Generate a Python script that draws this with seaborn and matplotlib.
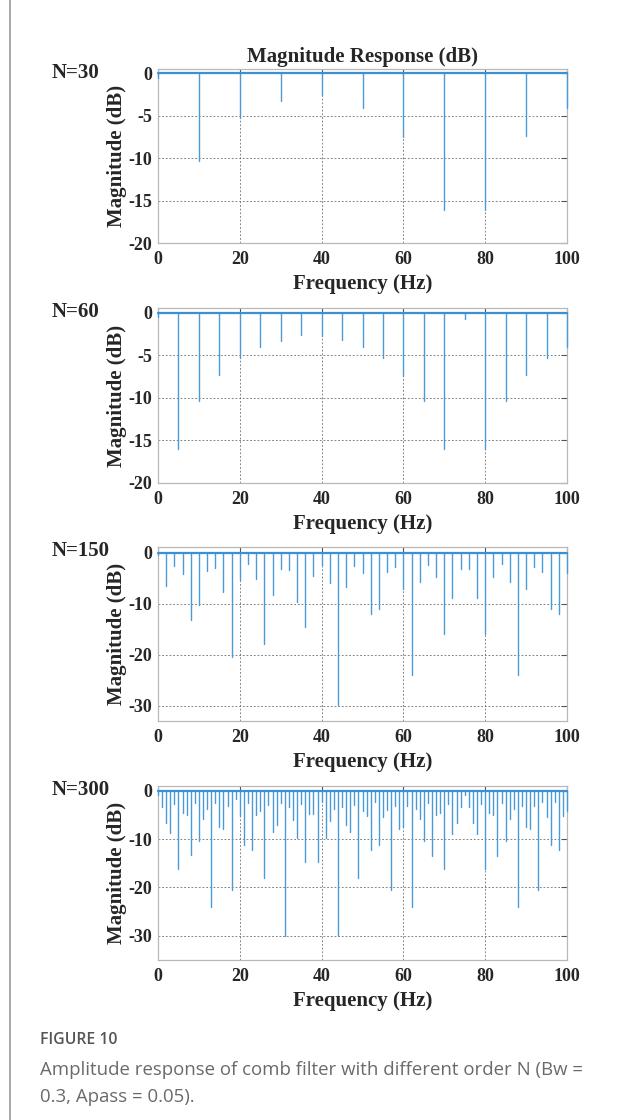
import numpy as np
import pandas as pd
import matplotlib
matplotlib.use("Agg")
import matplotlib.pyplot as plt
import seaborn as sns
from matplotlib.patches import FancyBboxPatch

# ---- data: comb filter magnitude response (dB) at the notch/peak frequencies ----
orders = ["N=30", "N=60", "N=150", "N=300"]

freq_n30 = list(range(0, 101, 10))
mag_n30 = [-0.6, -10.4, -5.3, -3.3, -2.6, -4.1, -7.5, -16.1, -16.1, -7.4, -4.1]

freq_n60 = list(range(0, 101, 5))
mag_n60 = [-0.5, -16.0, -10.4, -7.3, -5.4, -4.1, -3.3, -2.6, -2.7, -3.2, -4.1,
           -5.4, -7.5, -10.4, -16.0, -0.75, -16.0, -10.4, -7.3, -5.4, -4.1]

freq_n150 = list(range(0, 101, 2))
mag_n150 = [-0.5, -6.5, -2.6, -4.2, -13.2, -10.2, -3.7, -3.1, -7.8, -20.5, -5.3,
            -2.3, -5.2, -17.9, -8.3, -3.2, -3.5, -9.6, -14.5, -4.5, -2.4,
            -6.0, -29.9, -6.8, -2.7, -4.0, -12.1, -11.1, -3.8, -2.9, -7.2,
            -23.9, -5.7, -2.4, -4.8, -16.0, -8.8, -3.3, -3.3, -8.8, -16.0,
            -4.7, -2.3, -5.7, -23.9, -7.2, -2.9, -3.8, -11.1, -12.1, -4.0]

freq_n300 = list(range(0, 101, 1))
mag_n300 = [-0.9, -3.4, -6.6, -8.8, -2.8, -16.2, -4.5, -4.9, -13.3, -2.6, -10.4,
            -5.9, -3.8, -24.0, -2.6, -7.4, -7.9, -3.1, -20.6, -1.6, -5.3,
            -11.2, -2.5, -12.3, -5.0, -4.1, -18.0, -3.0, -8.5, -7.0, -2.6,
            -30.0, -3.4, -6.0, -9.7, -2.8, -14.7, -4.7, -4.7, -14.7, -2.4,
            -9.7, -6.2, -3.7, -30.0, -3.3, -7.0, -8.5, -3.0, -18.1, -4.1,
            -5.2, -12.3, -2.4, -11.2, -5.5, -4.0, -20.6, -3.1, -7.9, -7.4,
            -3.1, -24.0, -3.8, -5.9, -10.4, -2.6, -13.4, -4.9, -4.5, -16.2,
            -2.8, -9.0, -6.6, -3.4, -0.9, -3.4, -6.6, -9.0, -2.8, -16.2,
            -4.5, -4.9, -13.4, -2.6, -10.4, -5.9, -3.8, -24.0, -3.1, -7.4,
            -7.9, -3.1, -20.6, -2.4, -5.5, -11.2, -2.4, -12.3, -5.2, -4.1]

freq_ticks = [0, 20, 40, 60, 80, 100]
mag_ticks_small = [0, -5, -10, -15, -20]
mag_ticks_large = [0, -10, -20, -30]

series = [
    (freq_n30, mag_n30, (-20, 0.45), mag_ticks_small),
    (freq_n60, mag_n60, (-20, 0.5), mag_ticks_small),
    (freq_n150, mag_n150, (-32.9, 1.15), mag_ticks_large),
    (freq_n300, mag_n300, (-35, 1.0), mag_ticks_large),
]

# ---- style ----
sns.set_theme(style="white")
plt.rcParams["font.family"] = ["Liberation Serif", "DejaVu Serif"]
plt.rcParams["axes.unicode_minus"] = False

STEM = "#4a9ad8"
BASE = "#3b8fd4"
SPINE = "#b8b8b8"
GRID = "#707070"

W, H = 620, 1120
fig = plt.figure(figsize=(W / 100, H / 100), dpi=100)
fig.patch.set_facecolor("white")

# outer frame of the figure card (only its left edge falls inside the canvas)
frame = FancyBboxPatch((10 / W, -0.05), 1.2, 1.1, boxstyle="round,pad=0,rounding_size=0.01",
                       transform=fig.transFigure, facecolor="none", edgecolor="#9a9a9a",
                       linewidth=1.2, zorder=0)
fig.patches.append(frame)

# panel placement in pixels: (top, bottom)
panel_rows = [(69.3, 243.0), (308.3, 482.7), (546.7, 720.7), (786.0, 960.0)]
LEFT, RIGHT = 158.0, 567.0

for i, ((top, bottom), (freqs, mags, ylim, yticks)) in enumerate(zip(panel_rows, series)):
    ax = fig.add_axes([LEFT / W, 1 - bottom / H, (RIGHT - LEFT) / W, (bottom - top) / H])

    # each stem is a two-point line from 0 dB down to its magnitude
    n = len(freqs)
    df = pd.DataFrame({
        "freq": np.repeat(freqs, 2),
        "mag": np.column_stack([np.zeros(n), mags]).ravel(),
        "stem": np.repeat(np.arange(n), 2),
    })
    ax.grid(True, linestyle=(0, (2.2, 2.2)), color=GRID, linewidth=0.6)
    sns.lineplot(data=df, x="freq", y="mag", units="stem", estimator=None,
                 color=STEM, linewidth=1.0, ax=ax, legend=False, zorder=3,
                 clip_on=False)
    sns.lineplot(x=[freqs[0], freqs[-1]], y=[0, 0], color=BASE, linewidth=1.6,
                 ax=ax, legend=False, zorder=4, clip_on=False)

    ax.set_xlim(0, 100)
    ax.set_ylim(*ylim)
    ax.set_xticks(freq_ticks)
    ax.set_yticks(yticks)
    ax.set_xticklabels([str(t) for t in freq_ticks], fontsize=13, fontweight="bold")
    ax.set_yticklabels([str(t) for t in yticks], fontsize=13, fontweight="bold")
    ax.tick_params(direction="in", length=4, width=0.8, color="#555555",
                   top=True, right=True, pad=4)
    ax.tick_params(axis="x", pad=6)
    for sp in ax.spines.values():
        sp.set_visible(True)
        sp.set_color(SPINE)
        sp.set_linewidth(0.9)
        sp.set_zorder(2)

    ax.set_xlabel("Frequency (Hz)", fontsize=15, fontweight="bold", labelpad=4)
    ax.set_ylabel("Magnitude (dB)", fontsize=15, fontweight="bold", labelpad=1)

    fig.text(52 / W, 1 - (top + 4) / H, orders[i], fontsize=15, fontweight="bold",
             ha="left", va="center")

    if i == 0:
        ax.set_title("Magnitude Response (dB)", fontsize=15, fontweight="bold", pad=5)

# ---- caption ----
CAP = ["Open Sans", "DejaVu Sans"]
fig.text(40 / W, 1 - 1040 / H, "FIGURE 10", fontsize=11.3, color="#555555",
         family=CAP, fontweight="semibold", va="center")
fig.text(40 / W, 1 - 1070 / H, "Amplitude response of comb filter with different order N (Bw =",
         fontsize=13.4, color="#6a6a6a", family=CAP, va="center")
fig.text(40 / W, 1 - 1097 / H, "0.3, Apass = 0.05).",
         fontsize=13.4, color="#6a6a6a", family=CAP, va="center")

fig.savefig("out.png", dpi=100)
